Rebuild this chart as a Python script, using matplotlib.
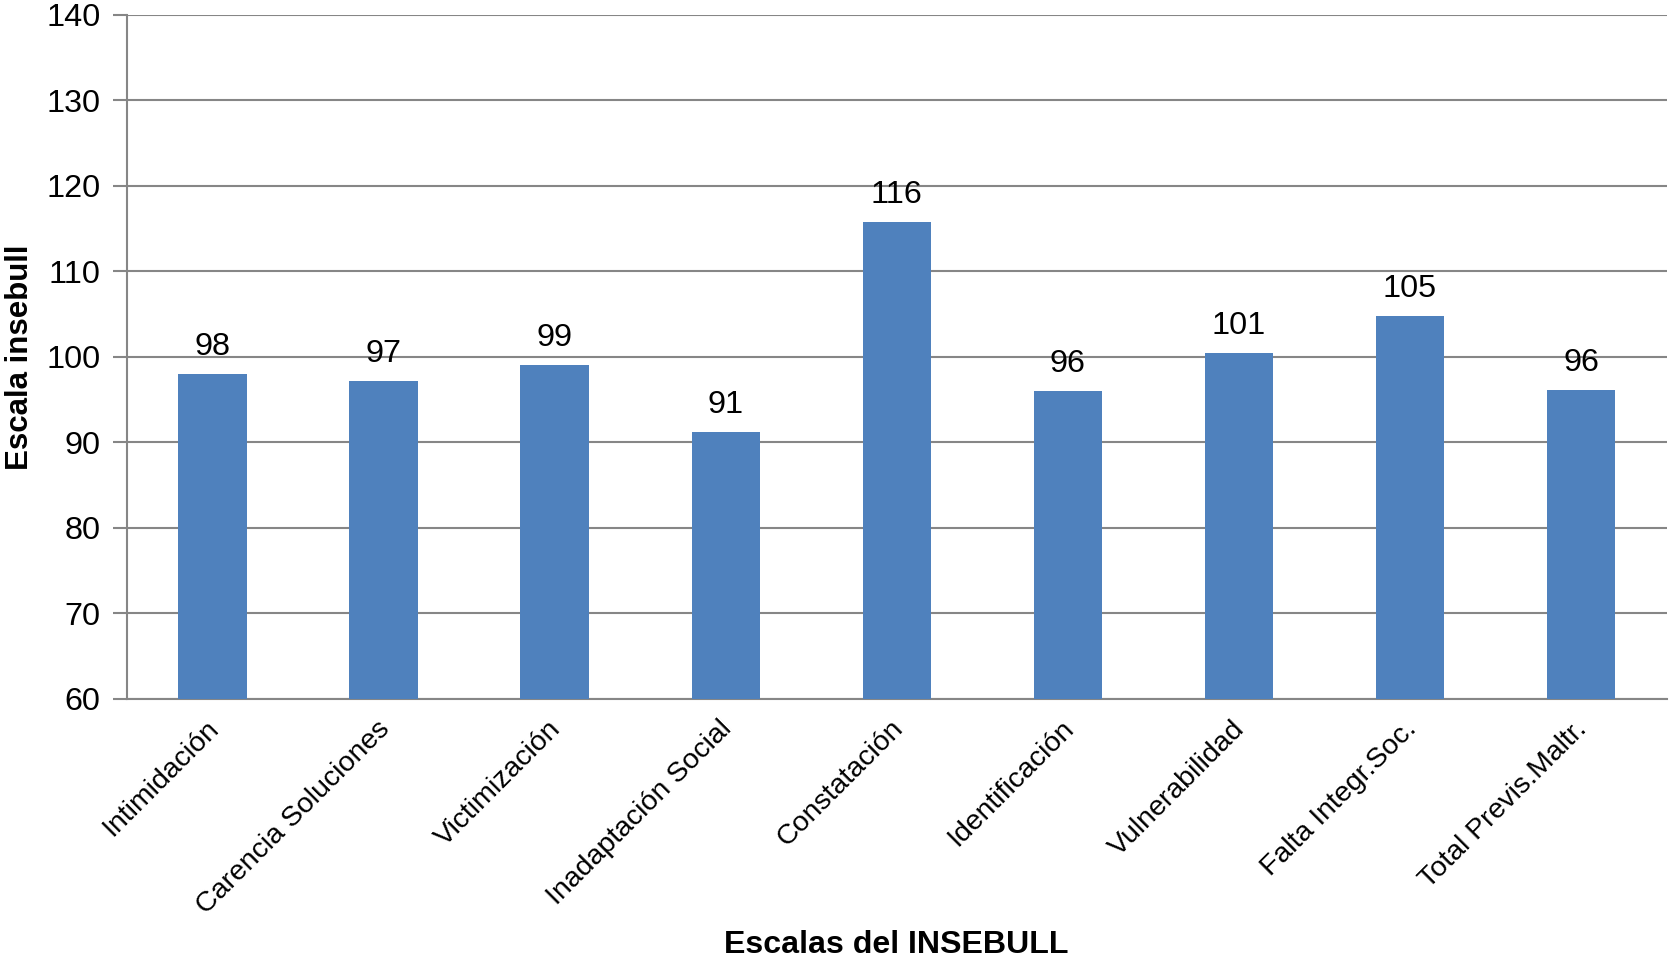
import matplotlib
matplotlib.use('Agg')
import matplotlib.pyplot as plt
import matplotlib.transforms as mtransforms
import numpy as np

plt.rcParams['font.family'] = ['Liberation Sans', 'DejaVu Sans']

# Datos
escalas = ['Intimidación', 'Carencia Soluciones', 'Victimización', 'Inadaptación Social',
           'Constatación', 'Identificación', 'Vulnerabilidad', 'Falta Integr.Soc.',
           'Total Previs.Maltr.']
valores = [98.0, 97.2, 99.1, 91.2, 115.8, 96.0, 100.5, 104.8, 96.1]
etiquetas = ['98', '97', '99', '91', '116', '96', '101', '105', '96']
yticks = [60, 70, 80, 90, 100, 110, 120, 130, 140]

fig = plt.figure(figsize=(16.69, 9.67), dpi=100)
ax = fig.add_axes([0.0761, 0.2772, 0.9225, 0.7073])

x = np.arange(len(escalas))
barras = ax.bar(x, [v - 60 for v in valores], bottom=60, width=0.4, color='#4F81BD', zorder=3)

for xi, v, t in zip(x, valores, etiquetas):
    ax.annotate(t, (xi, v), xytext=(0, 12), textcoords='offset pixels',
                ha='center', va='bottom', fontsize=23.3, color='black')

ax.set_xlim(-0.5, len(escalas) - 0.5)
ax.set_ylim(60, 140)
ax.set_yticks(yticks)
ax.set_yticklabels([str(t) for t in yticks], fontsize=23.3)
ax.yaxis.grid(True, color='#868686', linewidth=1.5, zorder=0)

ax.set_xticks(x)
ax.set_xticklabels(escalas, rotation=45, ha='right', rotation_mode='anchor', fontsize=20.5)
ax.tick_params(axis='x', length=0, pad=12)
ax.tick_params(axis='y', length=10, width=1.5, color='#868686', pad=9)
# mover las etiquetas un poco a la izquierda
desplaza = mtransforms.ScaledTranslation(-0.07, 0, fig.dpi_scale_trans)
for lab in ax.get_xticklabels():
    lab.set_transform(lab.get_transform() + desplaza)

for s in ['top', 'right']:
    ax.spines[s].set_visible(False)
ax.spines['left'].set_color('#868686')
ax.spines['left'].set_linewidth(1.5)
ax.spines['bottom'].set_color('#868686')
ax.spines['bottom'].set_linewidth(1.5)

ax.set_ylabel('Escala insebull', fontsize=22.5, fontweight='bold', labelpad=8)
fig.text(0.537, 0.023, 'Escalas del INSEBULL', ha='center', va='center',
         fontsize=23.1, fontweight='bold')

plt.savefig('out.png', dpi=100)
